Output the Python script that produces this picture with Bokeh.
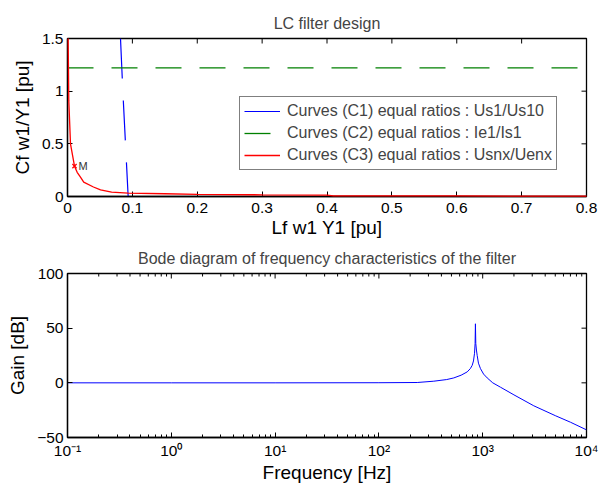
import math
from bokeh.plotting import figure
from bokeh.layouts import column
from bokeh.models import FixedTicker, Legend, LegendItem, Range1d
from bokeh.core.properties import value
from bokeh.embed import file_html
from bokeh.resources import INLINE

FONT = "Liberation Sans"

# ---------------- data: LC filter design ----------------
c1_lf = [0.0817, 0.0853, 0.0894, 0.0935]
c1_cf = [1.5, 1.0, 0.5, 0.0]

c2_lf = [0.0, 0.8]
c2_cf = [1.222, 1.222]

c3_lf = [0.001, 0.002, 0.0046, 0.0108, 0.0149, 0.02, 0.025, 0.04, 0.0509,
         0.068, 0.0935, 0.15, 0.2, 0.3, 0.4, 0.41, 0.5, 0.6, 0.7, 0.8]
c3_cf = [1.5, 0.91, 0.50, 0.288, 0.23, 0.183, 0.136, 0.09, 0.063,
         0.041, 0.032, 0.026, 0.02, 0.016, 0.014, 0.006, 0.005, 0.005, 0.004, 0.004]

m_lf = [0.0108]
m_cf = [0.288]
m_text = ["M"]

legend_labels = ["Curves (C1) equal ratios : Us1/Us10",
                 "Curves (C2) equal ratios : Ie1/Is1",
                 "Curves (C3) equal ratios : Usnx/Uenx"]

x_ticks_top = [0, 0.1, 0.2, 0.3, 0.4, 0.5, 0.6, 0.7, 0.8]
y_ticks_top = [0, 0.5, 1, 1.5]

# ---------------- data: Bode diagram ----------------
freq = [0.1, 1, 10, 100, 234, 338, 450, 527, 620, 709, 760, 792, 815, 834,
        845, 851, 858, 870, 885, 910, 952, 1020, 1105, 1250, 1484, 2000,
        3105, 5000, 7000, 10000]
gain = [0, 0, 0, 0.1, 0.3, 1.5, 3.0, 4.5, 7, 10, 13, 16, 20, 27,
        36, 54, 36, 30, 25, 18, 13, 8, 4.5, 0, -4, -11,
        -21, -30, -36, -43]

bode_x_ticks = [0.1, 1, 10, 100, 1000, 10000]
bode_x_labels = ["10\u207b\u00b9", "10\u2070", "10\u00b9", "10\u00b2", "10\u00b3", "10\u2074"]
bode_y_ticks = [-50, 0, 50, 100]
bode_minor = [m * 10.0 ** e for e in range(-1, 4) for m in range(2, 10)]

LW = 1.3


def style_axis(ax, fs="15.5px"):
    ax.major_label_text_font = FONT
    ax.major_label_text_font_size = fs
    ax.major_label_text_color = "black"
    ax.axis_label_text_font = FONT
    ax.axis_label_text_font_size = "19px"
    ax.axis_label_text_font_style = "normal"
    ax.axis_label_text_color = "black"
    ax.axis_line_color = "black"
    ax.axis_line_width = LW
    ax.major_tick_line_color = "black"
    ax.major_tick_in = 5
    ax.major_tick_out = 0
    ax.minor_tick_line_color = None


def mirror_ticks(p, xt, ytop, yt, xright, size=10):
    # inward tick marks on the top and right frame edges (clipped to the frame)
    p.scatter(xt, [ytop] * len(xt), marker="dash", angle=math.pi / 2, size=size,
              line_color="black", line_width=1)
    p.scatter([xright] * len(yt), yt, marker="dash", size=size,
              line_color="black", line_width=1)


# ---------------- top figure ----------------
p1 = figure(width=600, height=240, output_backend="svg", toolbar_location=None,
            x_range=Range1d(0, 0.8), y_range=Range1d(0, 1.5),
            min_border_left=67, min_border_right=14, min_border_top=38,
            min_border_bottom=44, title="LC filter design")
p1.title.text_font = FONT
p1.title.text_font_size = "16px"
p1.title.text_font_style = "normal"
p1.title.align = "center"
p1.title.standoff = 14
p1.grid.visible = False
p1.outline_line_color = "black"
p1.outline_line_width = LW
p1.xaxis.axis_label = "Lf w1 Y1 [pu]"
p1.yaxis.axis_label = "Cf w1/Y1 [pu]"
p1.xaxis.ticker = FixedTicker(ticks=x_ticks_top)
p1.yaxis.ticker = FixedTicker(ticks=y_ticks_top)
style_axis(p1.xaxis[0])
style_axis(p1.yaxis[0])
p1.xaxis.major_label_standoff = 6
p1.xaxis.axis_label_standoff = 1
p1.yaxis.major_label_standoff = 4
p1.yaxis.axis_label_standoff = 6
p1.xaxis.major_label_overrides = {0: "0", 0.1: "0.1", 0.2: "0.2", 0.3: "0.3", 0.4: "0.4",
                                  0.5: "0.5", 0.6: "0.6", 0.7: "0.7", 0.8: "0.8"}
p1.yaxis.major_label_overrides = {0: "0", 0.5: "0.5", 1: "1", 1.5: "1.5"}
mirror_ticks(p1, x_ticks_top, y_ticks_top[-1], y_ticks_top, x_ticks_top[-1])

r1 = p1.line(c1_lf, c1_cf, line_color="#0000ff", line_width=1.2, line_dash="40 22")
r2 = p1.line(c2_lf, c2_cf, line_color="#008000", line_width=1.3, line_dash="26 18")
r3 = p1.line(c3_lf, c3_cf, line_color="#ff0000", line_width=1.3, level="overlay")
p1.scatter(m_lf, m_cf, marker="x", size=6, line_color="#ff0000", line_width=1.2)
p1.text(m_lf, m_cf, text=m_text, x_offset=4, text_baseline="middle",
        text_font=value(FONT), text_font_size="11px", text_color="#333333")

legend = Legend(items=[LegendItem(label=legend_labels[0], renderers=[r1]),
                       LegendItem(label=legend_labels[1], renderers=[r2]),
                       LegendItem(label=legend_labels[2], renderers=[r3])],
                location=(172, 26))
legend.label_text_font = FONT
legend.label_text_font_size = "16px"
legend.label_height = 20
legend.glyph_height = 20
legend.glyph_width = 36
legend.label_standoff = 7
legend.spacing = 2
legend.padding = 4
legend.margin = 0
legend.border_line_color = "black"
legend.border_line_width = LW
legend.background_fill_alpha = 1
p1.add_layout(legend, "center")

# ---------------- Bode figure ----------------
p2 = figure(width=600, height=245, output_backend="svg", toolbar_location=None,
            x_axis_type="log", x_range=Range1d(0.1, 10000), y_range=Range1d(-50, 100),
            min_border_left=67, min_border_right=14, min_border_top=33,
            min_border_bottom=48,
            title="Bode diagram of frequency characteristics of the filter")
p2.title.text_font = FONT
p2.title.text_font_size = "16px"
p2.title.text_font_style = "normal"
p2.title.align = "center"
p2.title.standoff = 14
p2.grid.visible = False
p2.outline_line_color = "black"
p2.outline_line_width = LW
p2.xaxis.axis_label = "Frequency [Hz]"
p2.yaxis.axis_label = "Gain [dB]"
p2.xaxis.ticker = FixedTicker(ticks=bode_x_ticks, minor_ticks=bode_minor)
p2.yaxis.ticker = FixedTicker(ticks=bode_y_ticks)
style_axis(p2.xaxis[0])
style_axis(p2.yaxis[0])
p2.xaxis.minor_tick_line_color = "black"
p2.xaxis.minor_tick_in = 3
p2.xaxis.minor_tick_out = 0
p2.xaxis.major_label_overrides = dict(zip(bode_x_ticks, bode_x_labels))
p2.xaxis.major_label_standoff = 4
p2.xaxis.axis_label_standoff = 0
p2.yaxis.major_label_standoff = 4
p2.yaxis.axis_label_standoff = 6
mirror_ticks(p2, bode_x_ticks, bode_y_ticks[-1], bode_y_ticks, bode_x_ticks[-1])
p2.scatter(bode_minor, [bode_y_ticks[-1]] * len(bode_minor), marker="dash",
           angle=math.pi / 2, size=6, line_color="black", line_width=1)

p2.line(freq, gain, line_color="#0000ff", line_width=1)

layout = column(p1, p2)
open("out.html", "w").write(file_html(layout, INLINE))
